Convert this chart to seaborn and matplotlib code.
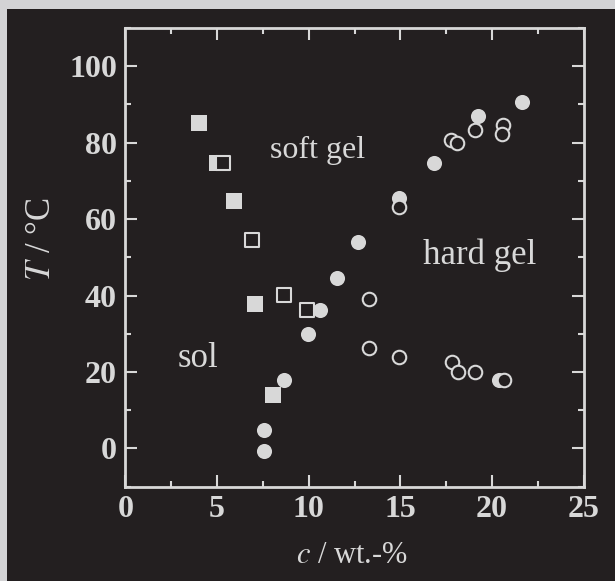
"""
Phase diagram: sol / soft gel / hard gel
"""

import numpy as np
import pandas as pd
import matplotlib
matplotlib.use("Agg")
import matplotlib.pyplot as plt
from matplotlib.patches import Rectangle
from matplotlib.ticker import MultipleLocator
import seaborn as sns

# data (c in wt.-%, T in degC)
fsq_c = [4.04, 4.98, 5.93, 7.07, 8.04]
fsq_T = [85.2, 74.6, 64.7, 37.7, 14.0]

osq_c = [5.35, 6.91, 8.66, 9.93]
osq_T = [74.6, 54.6, 40.1, 36.2]

# filled circles drawn below the open circles
fci_low_c = [14.93, 20.38]
fci_low_T = [65.5, 17.8]

oci_c = [13.31, 13.31, 14.93, 14.93, 17.75, 18.10, 17.80, 18.16, 19.07, 19.07, 20.60, 20.55, 20.65]
oci_T = [39.2, 26.2, 63.2, 23.8, 80.7, 79.8, 22.7, 20.0, 20.0, 83.3, 84.6, 82.2, 17.8]

fci_c = [7.56, 7.56, 8.66, 9.96, 10.62, 11.56, 12.67, 16.84, 19.25, 21.65]
fci_T = [4.8, -0.6, 17.8, 30.0, 36.2, 44.6, 53.9, 74.6, 86.9, 90.6]

region_labels = ["soft gel", "hard gel", "sol"]
region_c = [10.5, 19.34, 3.96]
region_T = [76.0, 48.3, 21.3]
region_size = [23, 25, 25]

x_ticks = [0, 5, 10, 15, 20, 25]
y_ticks = [0, 20, 40, 60, 80, 100]

FG = "#d8d8d8"
BG = "#231f20"
OUTER = "#d3d3d5"

sns.set_style("ticks")
plt.rcParams["font.family"] = ["Liberation Serif", "DejaVu Serif"]
plt.rcParams["mathtext.fontset"] = "stix"

fig = plt.figure(figsize=(6.15, 5.81), dpi=100)
fig.patch.set_facecolor(OUTER)
panel = Rectangle((7 / 615, 0), 1, 572 / 581, transform=fig.transFigure,
                  facecolor=BG, edgecolor="none", zorder=-10)
fig.add_artist(panel)

ax = fig.add_axes([125.3 / 615, 1 - 486.7 / 581, 458.4 / 615, 458.7 / 581])
ax.set_facecolor(BG)
ax.set_zorder(1)

ms = 118
ew = 1.5
sns.scatterplot(x=fsq_c, y=fsq_T, marker="s", s=ms, color=FG, edgecolor=FG, linewidth=0, ax=ax)
sns.scatterplot(x=osq_c, y=osq_T, marker="s", s=ms * 0.8, color=BG, edgecolor=FG, linewidth=ew, ax=ax)
sns.scatterplot(x=fci_low_c, y=fci_low_T, marker="o", s=ms, color=FG, edgecolor=FG, linewidth=0, ax=ax)
sns.scatterplot(x=oci_c, y=oci_T, marker="o", s=ms * 0.8, color=BG, edgecolor=FG, linewidth=ew, ax=ax)
sns.scatterplot(x=fci_c, y=fci_T, marker="o", s=ms, color=FG, edgecolor=FG, linewidth=0, ax=ax)

for lab, c, T, fs in zip(region_labels, region_c, region_T, region_size):
    ax.text(c, T, lab, color=FG, fontsize=fs, ha="center", va="baseline")

ax.set_xlim(0, 25)
ax.set_ylim(-10, 110)
ax.set_xticks(x_ticks)
ax.set_yticks(y_ticks)
ax.xaxis.set_minor_locator(MultipleLocator(2.5))
ax.yaxis.set_minor_locator(MultipleLocator(10))
ax.tick_params(which="both", direction="in", top=True, right=True, color=FG,
               labelcolor=FG, labelsize=23, width=1.5)
ax.tick_params(which="major", length=8.6, pad=6)
ax.tick_params(which="minor", length=4.3)
for lbl in ax.get_xticklabels() + ax.get_yticklabels():
    lbl.set_fontweight("bold")
for sp in ax.spines.values():
    sp.set_color(FG)
    sp.set_linewidth(2)

ax.set_xlabel(r"$c$ / wt.-%", color=FG, fontsize=22)
ax.set_ylabel(r"$T$ / °C", color=FG, fontsize=25)
ax.xaxis.set_label_coords(0.495, -0.15)
ax.yaxis.set_label_coords(-0.182, 0.54)
ax.xaxis.label.set_va("center")
ax.yaxis.label.set_va("center")

fig.savefig("out.png", dpi=100, facecolor=fig.get_facecolor())
